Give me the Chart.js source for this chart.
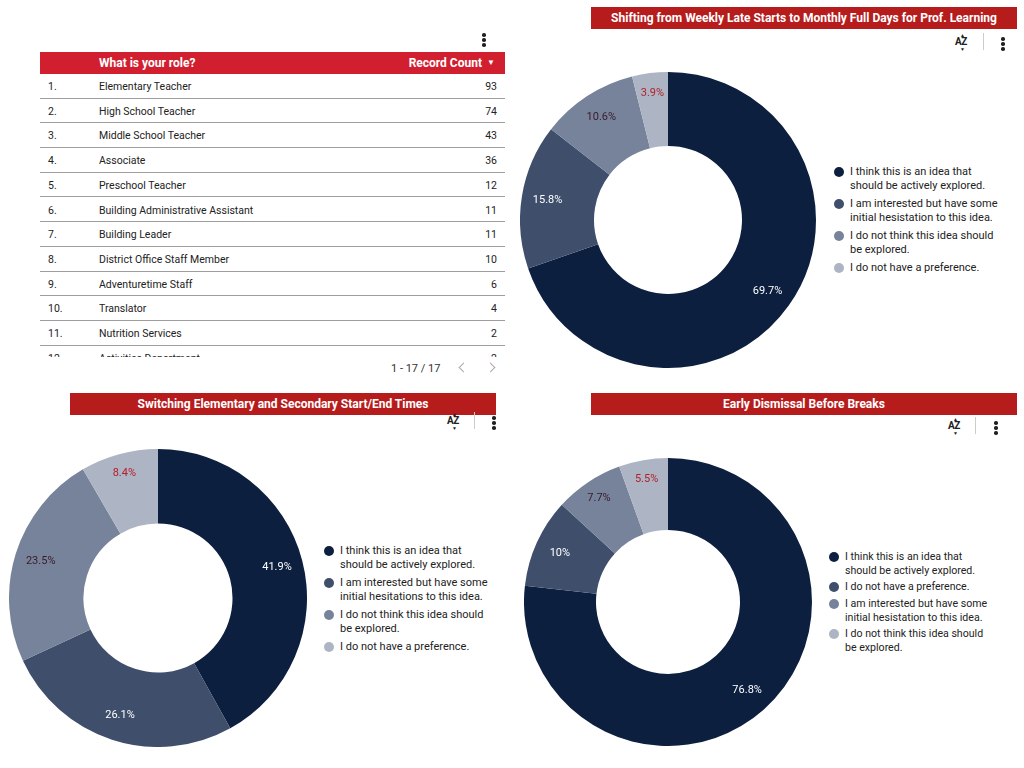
<!DOCTYPE html>
<html lang="en">
<head>
  <meta charset="UTF-8">
  <title>Survey Dashboard</title>
  <script src="https://cdn.jsdelivr.net/npm/chart.js"></script>
  <style>
    body {
      margin: 0;
      width: 1024px;
      height: 768px;
      overflow: hidden;
      background: #fff;
      font-family: 'Roboto', sans-serif;
      color: #222;
      position: relative;
    }
    .abs { position: absolute; }
    .title-bar {
      position: absolute;
      height: 22px;
      line-height: 22px;
      background: #b71c1c;
      color: #fff;
      font-weight: 700;
      font-size: 12px;
      text-align: center;
    }
    .kebab {
      position: absolute;
      width: 4px;
    }
    .kebab span {
      display: block;
      width: 3.5px;
      height: 3.5px;
      border-radius: 50%;
      background: #222;
      margin-bottom: 1.5px;
    }
    .az {
      position: absolute;
      font-size: 10px;
      font-weight: 700;
      letter-spacing: -0.5px;
      color: #222;
      line-height: 10px;
    }
    .az i {
      position: absolute;
      left: 5px;
      font-style: normal;
      font-size: 5px;
      line-height: 5px;
    }
    .vsep {
      position: absolute;
      width: 1px;
      height: 17px;
      background: #ccc;
    }
    .tbl-head {
      position: absolute;
      left: 40px; top: 52px;
      width: 465px; height: 22px;
      background: #d21f30;
      color: #fff;
      font-weight: 700;
      font-size: 12px;
      line-height: 22px;
    }
    .tbl-body {
      position: absolute;
      left: 40px; top: 74px;
      width: 465px; height: 283px;
      overflow: hidden;
    }
    .row {
      position: absolute;
      left: 0; width: 465px;
      height: 24.7px;
      box-sizing: border-box;
      border-bottom: 1.3px solid #9e9e9e;
      font-size: 10.5px;
      line-height: 25px;
    }
    .row .n { position: absolute; left: 8px; }
    .row .r { position: absolute; left: 59px; }
    .row .c { position: absolute; right: 8px; }
    .chev {
      position: absolute;
      width: 6px; height: 6px;
      border-top: 1.5px solid #aaa;
      border-left: 1.5px solid #aaa;
    }
    .legend {
      position: absolute;
      font-size: 11px;
      line-height: 14px;
      color: #222;
    }
    .legend .item { position: relative; padding-left: 16px; }
    .legend .dot {
      position: absolute;
      left: 0; top: 2px;
      width: 10px; height: 10px;
      border-radius: 50%;
    }
    canvas { position: absolute; }
  </style>
</head>
<body>
  <!-- table panel -->
  <div class="kebab" style="left:482px; top:33px;"><span></span><span></span><span></span></div>
  <div class="tbl-head">
    <span class="abs" style="left:59px;">What is your role?</span>
    <span class="abs" style="right:23px;">Record Count</span>
    <span class="abs" style="right:10px; font-size:8px;">&#9660;</span>
  </div>
  <div class="tbl-body" id="tblBody"></div>
  <div class="abs" style="left:391px; top:362px; font-size:11px; color:#333;">1 - 17 / 17</div>
  <div class="chev" style="left:460px; top:364px; transform:rotate(-45deg);"></div>
  <div class="chev" style="left:487px; top:364px; transform:rotate(135deg);"></div>

  <!-- chart 1 -->
  <div class="title-bar" style="left:591px; top:7px; width:426px;">Shifting from Weekly Late Starts to Monthly Full Days for Prof. Learning</div>
  <div class="az" style="left:955px; top:37px;">AZ<i style="top:-4px;">&#9650;</i><i style="top:10px;">&#9660;</i></div>
  <div class="vsep" style="left:983px; top:33px;"></div>
  <div class="kebab" style="left:1001px; top:37px;"><span></span><span></span><span></span></div>
  <canvas id="chart1" width="296" height="296" style="left:520px; top:72px;"></canvas>
  <div class="legend" id="legend1" style="left:834px; top:165px; width:180px;"></div>

  <!-- chart 2 -->
  <div class="title-bar" style="left:70px; top:393px; width:426px;">Switching Elementary and Secondary Start/End Times</div>
  <div class="az" style="left:447px; top:416px;">AZ<i style="top:-4px;">&#9650;</i><i style="top:10px;">&#9660;</i></div>
  <div class="vsep" style="left:474px; top:412px;"></div>
  <div class="kebab" style="left:492px; top:416px;"><span></span><span></span><span></span></div>
  <canvas id="chart2" width="298" height="298" style="left:9px; top:449px;"></canvas>
  <div class="legend" id="legend2" style="left:324px; top:544px; width:180px;"></div>

  <!-- chart 3 -->
  <div class="title-bar" style="left:591px; top:393px; width:426px;">Early Dismissal Before Breaks</div>
  <div class="az" style="left:948px; top:421px;">AZ<i style="top:-4px;">&#9650;</i><i style="top:10px;">&#9660;</i></div>
  <div class="vsep" style="left:975px; top:417px;"></div>
  <div class="kebab" style="left:994px; top:421px;"><span></span><span></span><span></span></div>
  <canvas id="chart3" width="288" height="288" style="left:524px; top:458px;"></canvas>
  <div class="legend" id="legend3" style="left:829px; top:550px; width:180px; font-size:10.6px;"></div>

  <script>
    // table data
    const roles = [
      'Elementary Teacher', 'High School Teacher', 'Middle School Teacher', 'Associate',
      'Preschool Teacher', 'Building Administrative Assistant', 'Building Leader',
      'District Office Staff Member', 'Adventuretime Staff', 'Translator',
      'Nutrition Services', 'Activities Department'
    ];
    const roleCounts = [93, 74, 43, 36, 12, 11, 11, 10, 6, 4, 2, 2];

    // doughnut data
    const labels1 = [
      ['I think this is an idea that', 'should be actively explored.'],
      ['I am interested but have some', 'initial hesistation to this idea.'],
      ['I do not think this idea should', 'be explored.'],
      ['I do not have a preference.']
    ];
    const values1 = [69.7, 15.8, 10.6, 3.9];

    const labels2 = [
      ['I think this is an idea that', 'should be actively explored.'],
      ['I am interested but have some', 'initial hesitations to this idea.'],
      ['I do not think this idea should', 'be explored.'],
      ['I do not have a preference.']
    ];
    const values2 = [41.9, 26.1, 23.5, 8.4];

    const labels3 = [
      ['I think this is an idea that', 'should be actively explored.'],
      ['I do not have a preference.'],
      ['I am interested but have some', 'initial hesistation to this idea.'],
      ['I do not think this idea should', 'be explored.']
    ];
    const values3 = [76.8, 10, 7.7, 5.5];

    const sliceColors = ['#0c1f3f', '#3e4e6b', '#76839a', '#adb4c3'];
    const sliceTextColors = ['#ffffff', '#ffffff', '#3b1a2a', '#b3202a'];

    // table rows
    const body = document.getElementById('tblBody');
    roles.forEach((role, i) => {
      const row = document.createElement('div');
      row.className = 'row';
      row.style.top = (i * 24.7) + 'px';
      row.innerHTML = `<span class="n">${i + 1}.</span><span class="r">${role}</span><span class="c">${roleCounts[i]}</span>`;
      body.appendChild(row);
    });

    // percentage labels inside the ring; thin slices sit a bit further out
    const sliceLabels = {
      id: 'sliceLabels',
      afterDatasetsDraw(chart) {
        const ctx = chart.ctx;
        const meta = chart.getDatasetMeta(0);
        const vals = chart.data.datasets[0].data;
        ctx.save();
        ctx.font = '11px Roboto';
        ctx.textAlign = 'center';
        ctx.textBaseline = 'middle';
        meta.data.forEach((arc, i) => {
          const mid = (arc.startAngle + arc.endAngle) / 2;
          const r = arc.outerRadius * (vals[i] < 9 ? 0.865 : 0.825);
          ctx.fillStyle = sliceTextColors[i];
          ctx.fillText(vals[i] + '%', arc.x + Math.cos(mid) * r, arc.y + Math.sin(mid) * r);
        });
        ctx.restore();
      }
    };

    function makeDoughnut(id, labels, values) {
      return new Chart(document.getElementById(id), {
        type: 'doughnut',
        data: {
          labels: labels.map(l => l.join(' ')),
          datasets: [{
            data: values,
            backgroundColor: sliceColors,
            borderWidth: 0,
            hoverOffset: 0
          }]
        },
        options: {
          responsive: false,
          animation: false,
          cutout: '50%',
          layout: { padding: 0 },
          plugins: {
            legend: { display: false },
            tooltip: { enabled: false }
          }
        },
        plugins: [sliceLabels]
      });
    }

    function makeLegend(id, labels, gap) {
      const el = document.getElementById(id);
      labels.forEach((lines, i) => {
        const item = document.createElement('div');
        item.className = 'item';
        item.style.marginBottom = gap + 'px';
        item.innerHTML = `<span class="dot" style="background:${sliceColors[i]}"></span>` + lines.join('<br>');
        el.appendChild(item);
      });
    }

    makeDoughnut('chart1', labels1, values1);
    makeDoughnut('chart2', labels2, values2);
    makeDoughnut('chart3', labels3, values3);
    makeLegend('legend1', labels1, 4);
    makeLegend('legend2', labels2, 4);
    makeLegend('legend3', labels3, 2.3);
  </script>
</body>
</html>
